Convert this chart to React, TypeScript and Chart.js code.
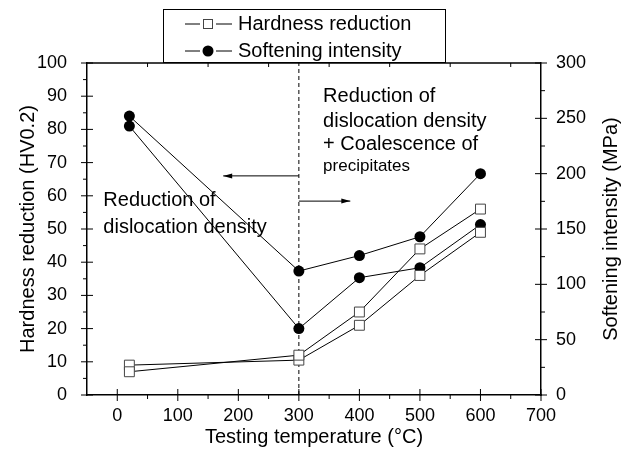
import React, { useEffect, useRef } from 'react';
import { Chart, registerables } from 'chart.js';

Chart.register(...registerables);

// ---- data ----
const temperatures = [20, 300, 400, 500, 600];
const hardnessLower = [9, 10.5, 21, 36, 49];
const hardnessUpper = [7, 12, 25, 44, 56];
const softeningUpper = [252, 112, 126, 143, 200];
const softeningLower = [243, 60, 106, 115, 154];

const xTickValues = [0, 100, 200, 300, 400, 500, 600, 700];
const xMinorValues = [50, 150, 250, 350, 450, 550, 650];
const topTickValues = [50, 150, 250, 350, 450, 550, 650];
const leftMinorValues = [5, 15, 25, 35, 45, 55, 65, 75, 85, 95];
const rightMinorValues = [25, 75, 125, 175, 225, 275];

const dividerTemp = 300;

const FONT = '"Liberation Sans", Arial, sans-serif';

type Note = { lines: string[]; x: number; y: number[]; size: number[] };
const notes: Note[] = [
  { lines: ['Reduction of', 'dislocation density'], x: -23, y: [58.7, 50.6], size: [20, 20] },
  {
    lines: ['Reduction of', 'dislocation density', '+ Coalescence of', 'precipitates'],
    x: 340,
    y: [90, 82.5, 75.6, 69],
    size: [20, 20, 20, 17],
  },
];
const arrowLeft = { y: 66, from: 300, to: 175 };
const arrowRight = { y: 58.4, from: 300, to: 385 };

function drawArrow(ctx: CanvasRenderingContext2D, x0: number, y0: number, x1: number, y1: number) {
  ctx.beginPath();
  ctx.moveTo(x0, y0);
  ctx.lineTo(x1, y1);
  ctx.stroke();
  const dir = Math.sign(x1 - x0);
  ctx.beginPath();
  ctx.moveTo(x1, y1);
  ctx.lineTo(x1 - dir * 9, y1 - 2.5);
  ctx.lineTo(x1 - dir * 9, y1 + 2.5);
  ctx.closePath();
  ctx.fill();
}

const decorPlugin = {
  id: 'decor',
  beforeDatasetsDraw(chart: any) {
    const { ctx, scales } = chart;
    const x = scales.x;
    const y = scales.y;
    const px = x.getPixelForValue(dividerTemp);
    ctx.save();
    ctx.strokeStyle = '#000';
    ctx.lineWidth = 1;
    ctx.setLineDash([4, 3]);
    ctx.beginPath();
    ctx.moveTo(px, y.getPixelForValue(0));
    ctx.lineTo(px, y.getPixelForValue(100));
    ctx.stroke();
    ctx.restore();
  },
  afterDraw(chart: any) {
    const { ctx, scales, chartArea } = chart;
    const x = scales.x;
    const y = scales.y;
    const y1 = scales.y1;
    const { left, right, top, bottom } = chartArea;
    ctx.save();
    ctx.strokeStyle = '#000';
    ctx.fillStyle = '#000';
    ctx.lineWidth = 1.5;
    // top border
    ctx.beginPath();
    ctx.moveTo(left, top);
    ctx.lineTo(right, top);
    ctx.stroke();

    ctx.lineWidth = 1;
    ctx.beginPath();
    xTickValues.forEach((v) => {
      const p = x.getPixelForValue(v);
      ctx.moveTo(p, bottom - 6);
      ctx.lineTo(p, bottom + 6);
    });
    xMinorValues.forEach((v) => {
      const p = x.getPixelForValue(v);
      ctx.moveTo(p, bottom);
      ctx.lineTo(p, bottom + 4);
    });
    topTickValues.forEach((v) => {
      const p = x.getPixelForValue(v);
      ctx.moveTo(p, top);
      ctx.lineTo(p, top + 4);
    });
    for (let v = 0; v <= 100; v += 10) {
      const p = y.getPixelForValue(v);
      ctx.moveTo(left - 6, p);
      ctx.lineTo(left + 6, p);
    }
    leftMinorValues.forEach((v) => {
      const p = y.getPixelForValue(v);
      ctx.moveTo(left - 4, p);
      ctx.lineTo(left, p);
    });
    for (let v = 0; v <= 300; v += 50) {
      const p = y1.getPixelForValue(v);
      ctx.moveTo(right - 6, p);
      ctx.lineTo(right + 6, p);
    }
    rightMinorValues.forEach((v) => {
      const p = y1.getPixelForValue(v);
      ctx.moveTo(right, p);
      ctx.lineTo(right + 4, p);
    });
    ctx.stroke();

    drawArrow(
      ctx,
      x.getPixelForValue(arrowLeft.from),
      y.getPixelForValue(arrowLeft.y),
      x.getPixelForValue(arrowLeft.to),
      y.getPixelForValue(arrowLeft.y)
    );
    drawArrow(
      ctx,
      x.getPixelForValue(arrowRight.from),
      y.getPixelForValue(arrowRight.y),
      x.getPixelForValue(arrowRight.to),
      y.getPixelForValue(arrowRight.y)
    );

    ctx.textAlign = 'left';
    ctx.textBaseline = 'middle';
    notes.forEach((n) => {
      n.lines.forEach((line, i) => {
        ctx.font = `${n.size[i]}px ${FONT}`;
        ctx.fillText(line, x.getPixelForValue(n.x), y.getPixelForValue(n.y[i]));
      });
    });

    // right axis title (reads bottom to top)
    ctx.save();
    ctx.translate(611, (top + bottom) / 2);
    ctx.rotate(-Math.PI / 2);
    ctx.textAlign = 'center';
    ctx.textBaseline = 'middle';
    ctx.font = `20px ${FONT}`;
    ctx.fillText('Softening intensity (MPa)', 0, 0);
    ctx.restore();

    // legend
    const bx = 163, by = 9, bw = 282, bh = 53;
    ctx.fillStyle = '#fff';
    ctx.fillRect(bx, by, bw, bh);
    ctx.lineWidth = 1;
    ctx.strokeStyle = '#000';
    ctx.strokeRect(bx + 0.5, by + 0.5, bw, bh);
    const rows = [
      { label: 'Hardness reduction', square: true, yy: 24 },
      { label: 'Softening intensity', square: false, yy: 51 },
    ];
    rows.forEach((r) => {
      ctx.strokeStyle = '#000';
      ctx.beginPath();
      ctx.moveTo(185, r.yy);
      ctx.lineTo(200, r.yy);
      ctx.moveTo(216, r.yy);
      ctx.lineTo(232, r.yy);
      ctx.stroke();
      if (r.square) {
        ctx.fillStyle = '#fff';
        ctx.strokeStyle = '#444';
        ctx.fillRect(203, r.yy - 5, 10, 10);
        ctx.strokeRect(203.5, r.yy - 4.5, 9, 9);
      } else {
        ctx.fillStyle = '#000';
        ctx.beginPath();
        ctx.arc(208, r.yy, 5.5, 0, Math.PI * 2);
        ctx.fill();
      }
      ctx.fillStyle = '#000';
      ctx.font = `20px ${FONT}`;
      ctx.textAlign = 'left';
      ctx.textBaseline = 'middle';
      ctx.fillText(r.label, 238, r.yy);
    });
    ctx.restore();
  },
};

export default function App() {
  const canvasRef = useRef<HTMLCanvasElement | null>(null);

  useEffect(() => {
    if (!canvasRef.current) return;
    Chart.defaults.font.family = FONT;
    Chart.defaults.color = '#000';
    const toPts = (vals: number[]) => temperatures.map((t, i) => ({ x: t, y: vals[i] }));
    const squareStyle = {
      borderColor: '#000',
      borderWidth: 1,
      pointStyle: 'rect',
      pointRadius: 7,
      pointBackgroundColor: '#fff',
      pointBorderColor: '#444',
      pointBorderWidth: 1,
      yAxisID: 'y',
      showLine: true,
    };
    const circleStyle = {
      borderColor: '#000',
      borderWidth: 1,
      pointStyle: 'circle',
      pointRadius: 5.5,
      pointBackgroundColor: '#000',
      pointBorderColor: '#000',
      pointBorderWidth: 0,
      yAxisID: 'y1',
      showLine: true,
    };
    const chart = new Chart(canvasRef.current, {
      type: 'scatter',
      data: {
        datasets: [
          { label: 'Hardness reduction', data: toPts(hardnessUpper), ...squareStyle } as any,
          { label: 'Hardness reduction 2', data: toPts(hardnessLower), ...squareStyle } as any,
          { label: 'Softening intensity', data: toPts(softeningUpper), ...circleStyle } as any,
          { label: 'Softening intensity 2', data: toPts(softeningLower), ...circleStyle } as any,
        ],
      },
      options: {
        animation: false,
        responsive: false,
        layout: { padding: { top: 63, left: 0, right: 0, bottom: 0 } },
        plugins: { legend: { display: false }, tooltip: { enabled: false } },
        scales: {
          x: {
            type: 'linear',
            min: -50,
            max: 700,
            grid: { display: false },
            border: { display: true, color: '#000', width: 1.5 },
            ticks: { font: { size: 18 }, padding: 2, maxRotation: 0 },
            afterBuildTicks: (scale: any) => {
              scale.ticks = xTickValues.map((v) => ({ value: v }));
            },
            afterFit: (scale: any) => {
              scale.height = 62;
            },
            title: {
              display: true,
              text: 'Testing temperature (°C)',
              font: { size: 20 },
              padding: { top: 0, bottom: 8 },
            },
          },
          y: {
            type: 'linear',
            position: 'left',
            min: 0,
            max: 100,
            grid: { display: false },
            border: { display: true, color: '#000', width: 1.5 },
            ticks: { stepSize: 10, font: { size: 18 }, padding: 12 },
            afterFit: (scale: any) => {
              scale.width = 87;
            },
            title: {
              display: true,
              text: 'Hardness reduction (HV0.2)',
              font: { size: 20 },
              padding: { top: 16, bottom: 0 },
            },
          },
          y1: {
            type: 'linear',
            position: 'right',
            min: 0,
            max: 300,
            grid: { display: false },
            border: { display: true, color: '#000', width: 1.5 },
            ticks: { stepSize: 50, font: { size: 18 }, padding: 7 },
            afterFit: (scale: any) => {
              scale.width = 93;
            },
          },
        },
      },
      plugins: [decorPlugin],
    });
    return () => chart.destroy();
  }, []);

  return (
    <canvas
      ref={canvasRef}
      width={634}
      height={457}
      style={{ position: 'absolute', left: 0, top: 0, width: 634, height: 457 }}
    />
  );
}
